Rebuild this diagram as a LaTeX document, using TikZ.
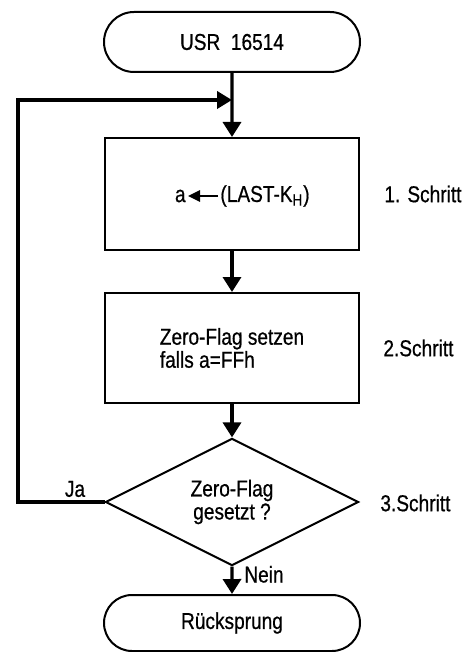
\documentclass[tikz,border=0pt]{standalone}
\usepackage{fontspec}
\setmainfont{Liberation Sans}[FakeStretch=0.83, FakeBold=0.6]
\usetikzlibrary{shapes.geometric, shapes.misc, arrows.meta, positioning}

\begin{document}
\begin{tikzpicture}[x=0.5pt, y=-0.5pt,
		every node/.style={font=\fontsize{11.5pt}{11.5pt}\selectfont},
		box/.style={draw, line width=1pt, minimum width=127pt, inner sep=0pt},
		term/.style={draw, line width=1pt, rounded rectangle, minimum width=128pt, inner sep=0pt},
		query/.style={draw, line width=1pt, diamond, minimum width=126.5pt, minimum height=53.5pt, inner sep=0pt, align=center},
		flow/.style={line width=1.7pt, -{Triangle[length=7.5pt, width=9pt]}},
		back/.style={line width=2.1pt, -{Triangle[length=7.5pt, width=8.5pt]}}]
		\useasboundingbox (0, 0) rectangle (461, 652);

		% blocks
		\node[term, minimum height=30pt] (usr) at (232, 42) {USR\ \ 16514};
		\node[box, minimum height=56pt] (load) at (232, 194) {};
		\node[box, minimum height=55pt, align=left] (flag) at (232, 348) {Zero-Flag setzen\\falls a=FFh};
		\node[query] (zero) at (232, 502) {Zero-Flag\\gesetzt ?};
		\node[term, minimum height=28pt] (ret) at (232, 623) {R\"ucksprung};

		% assignment in the first block
		\node[inner sep=1pt] (last) at (265, 196) {(LAST-K\textsubscript{H})};
		\node[inner sep=1pt, left=15pt of last] (areg) {a};
		\draw[line width=1.3pt, -{Triangle[length=6pt, width=5.5pt]}] (last) -- (areg);

		% steps
		\node[anchor=west, inner sep=0pt] (s1) at (384, 194) {1. Schritt};
		\node[anchor=west, inner sep=0pt] (s2) at (383, 348) {2.Schritt};
		\node[anchor=west, inner sep=0pt] (s3) at (380, 503) {3.Schritt};

		% flow
		\coordinate (corner) at (18, 100);
		\coordinate (join) at (232, 100);
		\draw[flow] (usr) -- (load);
		\draw[flow] (load) -- (flag);
		\draw[flow] (flag) -- (zero);
		\draw[flow] (zero) -- node[midway, right, xshift=2pt, yshift=3pt] {Nein} (ret);
		\draw[back] (zero.west) -| (corner) -- (join);
		\node (ja) at (75, 489) {Ja};

	\end{tikzpicture}
\end{document}
